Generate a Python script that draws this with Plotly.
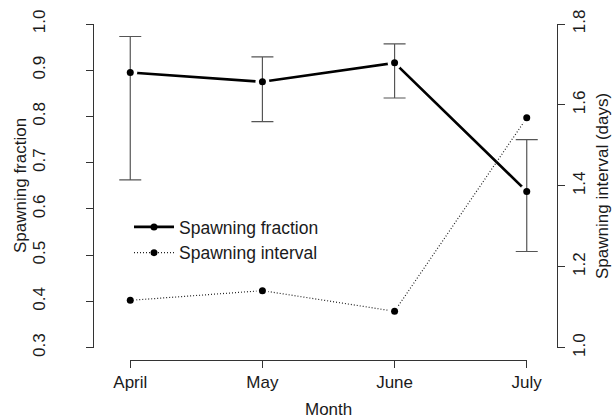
import plotly.graph_objects as go

# ---- data ----
months = ["April", "May", "June", "July"]
fraction = [0.895, 0.875, 0.916, 0.638]
fraction_upper = [0.973, 0.929, 0.957, 0.750]
fraction_lower = [0.663, 0.789, 0.840, 0.508]
interval = [1.117, 1.141, 1.090, 1.568]
left_ticks = [0.3, 0.4, 0.5, 0.6, 0.7, 0.8, 0.9, 1.0]
right_ticks = [1.0, 1.2, 1.4, 1.6, 1.8]

W, H = 616, 418
FONT = "Liberation Sans, Arial, sans-serif"
FS = 17
TXT = "#1a1a1a"
AX = "#333333"

def px(x):
    return x / W

def py(y):
    return 1 - y / H

xi = list(range(len(months)))  # category positions on the month axis
err_plus = [u - v for u, v in zip(fraction_upper, fraction)]
err_minus = [v - l for v, l in zip(fraction, fraction_lower)]

fig = go.Figure()

# carrier for the visible month axis (drawn first)
fig.add_trace(go.Scatter(x=xi, y=[None] * len(months), mode="markers", showlegend=False,
                         xaxis="x2", yaxis="y", hoverinfo="skip"))
# legend-bearing line traces
fig.add_trace(go.Scatter(x=xi, y=fraction, mode="lines+markers", name="Spawning fraction",
                         line=dict(color="black", width=2.6),
                         marker=dict(color="black", size=7),
                         xaxis="x", yaxis="y", hoverinfo="skip"))
fig.add_trace(go.Scatter(x=xi, y=interval, mode="lines+markers", name="Spawning interval",
                         line=dict(color="#222222", width=1.2, dash="1px,2px"),
                         marker=dict(color="black", size=7),
                         xaxis="x", yaxis="y2", hoverinfo="skip"))
# white halos (R type="b" gaps)
fig.add_trace(go.Scatter(x=xi, y=fraction, mode="markers", showlegend=False,
                         marker=dict(color="white", size=14, line=dict(width=0)),
                         xaxis="x", yaxis="y", hoverinfo="skip"))
fig.add_trace(go.Scatter(x=xi, y=interval, mode="markers", showlegend=False,
                         marker=dict(color="white", size=12, line=dict(width=0)),
                         xaxis="x", yaxis="y2", hoverinfo="skip"))
# error bars
fig.add_trace(go.Scatter(x=xi, y=fraction, mode="markers", showlegend=False,
                         marker=dict(color="rgba(0,0,0,0)", size=1),
                         error_y=dict(type="data", symmetric=False, array=err_plus, arrayminus=err_minus,
                                      color="#555555", thickness=1.2, width=11),
                         xaxis="x", yaxis="y", hoverinfo="skip"))
# dots on top
fig.add_trace(go.Scatter(x=xi, y=fraction, mode="markers", showlegend=False,
                         marker=dict(color="black", size=7), xaxis="x", yaxis="y", hoverinfo="skip"))
fig.add_trace(go.Scatter(x=xi, y=interval, mode="markers", showlegend=False,
                         marker=dict(color="black", size=7), xaxis="x", yaxis="y2", hoverinfo="skip"))

common = dict(showgrid=False, zeroline=False, automargin=False)

fig.update_layout(
    width=W, height=H,
    margin=dict(l=0, r=0, t=0, b=0),
    paper_bgcolor="white", plot_bgcolor="rgba(0,0,0,0)",
    font=dict(family=FONT, size=FS, color=TXT),
    showlegend=True,
    legend=dict(x=px(129), y=py(209), xanchor="left", yanchor="top",
                bgcolor="rgba(0,0,0,0)", font=dict(size=17.5, color=TXT),
                tracegroupgap=0, itemwidth=40),
    xaxis=dict(domain=[px(114.4), px(542.6)], range=[-0.12, 3.12],
               showline=False, ticks="", showticklabels=False, anchor="free", position=0, **common),
    xaxis2=dict(domain=[px(130.3), px(526.7)], range=[0, 3],
                tickmode="array", tickvals=xi, ticktext=months,
                showline=True, linecolor=AX, linewidth=1,
                ticks="outside", ticklen=7, tickwidth=1, tickcolor=AX,
                anchor="free", position=py(360), side="bottom",
                tickfont=dict(size=FS, color=TXT), **common),
    yaxis=dict(domain=[py(347.7), py(24)], range=[0.3, 1.0],
               tickmode="array", tickvals=left_ticks, tickformat=".1f",
               showline=True, linecolor=AX, linewidth=1,
               ticks="outside", ticklen=7, tickwidth=1, tickcolor=AX,
               tickangle=-90, anchor="free", position=px(93), side="left",
               ticklabelstandoff=34,
               tickfont=dict(size=FS, color=TXT), **common),
    yaxis2=dict(domain=[py(347.7), py(24)], range=[1.0, 1.8],
                tickmode="array", tickvals=right_ticks, tickformat=".1f",
                showline=True, linecolor=AX, linewidth=1,
                ticks="outside", ticklen=7, tickwidth=1, tickcolor=AX,
                tickangle=-90, anchor="free", position=px(557), side="right",
                overlaying="y", tickfont=dict(size=FS, color=TXT), **common),
    annotations=[
        dict(text="Month", x=px(328.5), y=py(409), xref="paper", yref="paper",
             showarrow=False, xanchor="center", yanchor="middle", font=dict(size=FS, color=TXT)),
        dict(text="Spawning fraction", x=px(20), y=py(186), xref="paper", yref="paper",
             showarrow=False, textangle=-90, xanchor="center", yanchor="middle",
             font=dict(size=FS, color=TXT)),
        dict(text="Spawning interval (days)", x=px(602), y=py(186), xref="paper", yref="paper",
             showarrow=False, textangle=-90, xanchor="center", yanchor="middle",
             font=dict(size=FS, color=TXT)),
    ],
)

fig.write_html("out.html", config={"displayModeBar": False},
               post_script="document.body.style.margin='0';")
